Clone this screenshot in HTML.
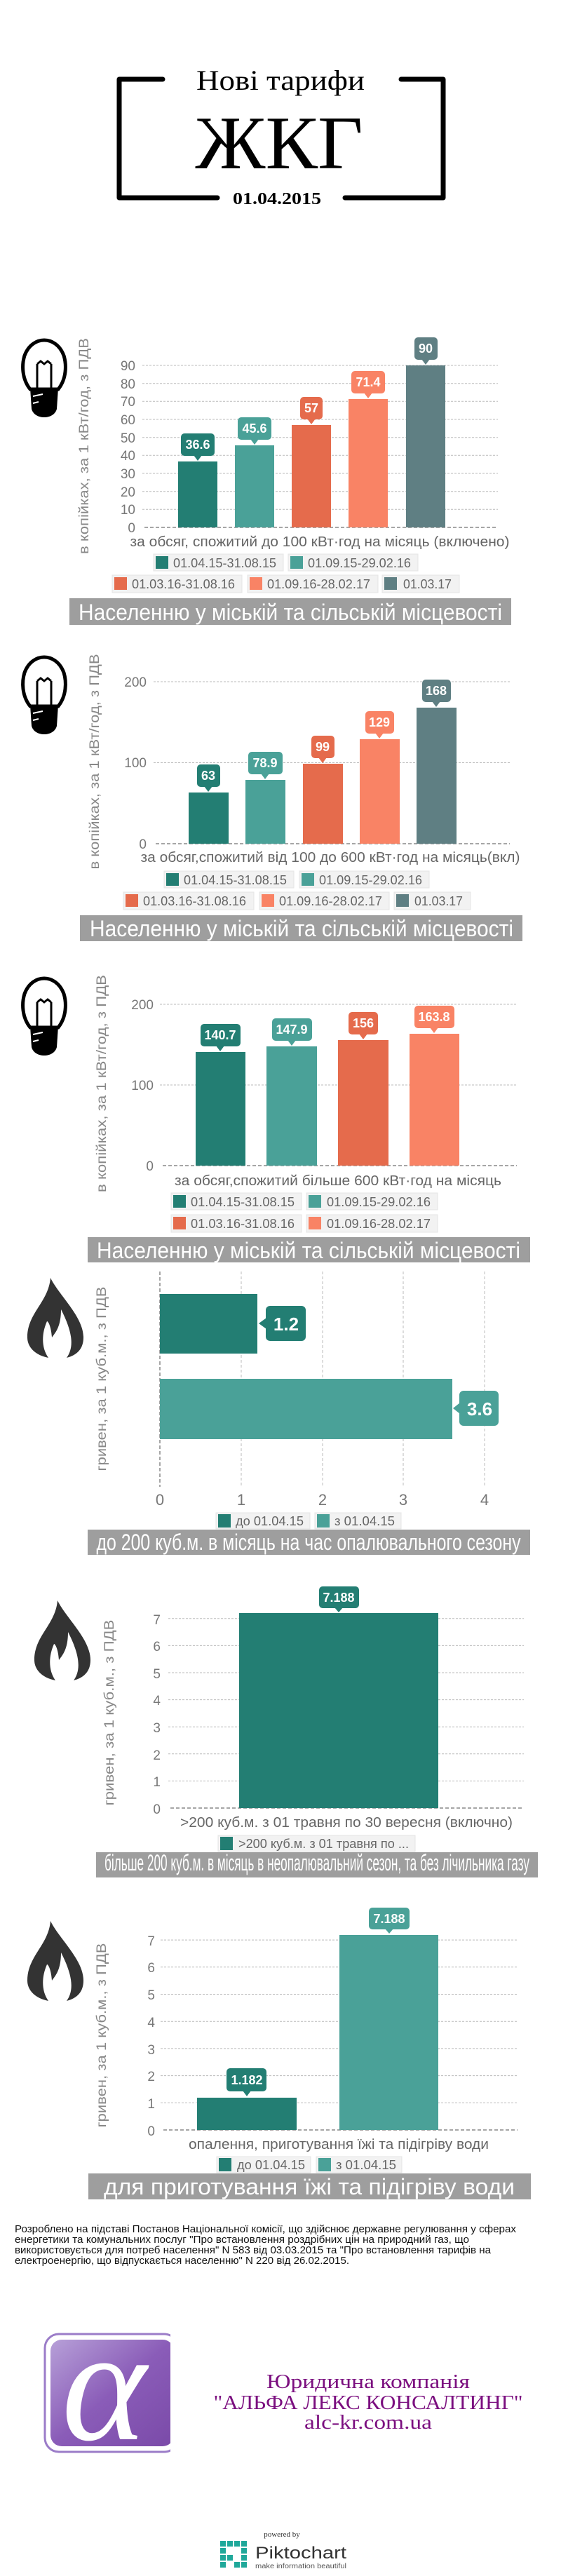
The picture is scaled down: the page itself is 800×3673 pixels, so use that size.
<!DOCTYPE html>
<html><head><meta charset="utf-8">
<style>
html,body{margin:0;padding:0;background:#fff;}
svg{display:block;}
.c{font-family:"Liberation Sans Narrow","Liberation Sans",sans-serif;}
.s{font-family:"Liberation Sans",sans-serif;}
.sf{font-family:"Liberation Serif",serif;}
.tk{font-size:19px;fill:#777;text-anchor:end;}
.bb{font-size:18px;fill:#fff;font-weight:bold;text-anchor:middle;}
.lg{font-size:18px;fill:#666;}
.cat{font-size:20px;fill:#666;text-anchor:middle;}
.ban{font-size:32px;fill:#fff;text-anchor:middle;}
.yl{font-size:19px;fill:#888;text-anchor:middle;}
</style></head><body>
<svg width="800" height="3673" viewBox="0 0 800 3673" xmlns="http://www.w3.org/2000/svg">
<defs>
<g id="bulb">
  <path d="M12,70 C0,55 0,35 4,22 C10,6 22,0 32,0 C42,0 54,6 60,22 C64,35 64,55 52,70 Z" fill="#fff" stroke="#000" stroke-width="5"/>
  <path d="M22,34 L22,68 M42,34 L42,68 M22,34 l5,-4 l5,4 l5,-4 l5,4" fill="none" stroke="#000" stroke-width="3"/>
  <path d="M12,68 L52,68 L50,98 C48,106 40,110 32,110 C24,110 16,106 14,98 Z" fill="#000"/>
  <path d="M16,80 L30,77 M16,90 L24,88" stroke="#fff" stroke-width="2"/>
</g>
<g id="flame">
  <path d="M33,0 C45,25 80,55 80,85 C80,100 72,110 56,114 C66,100 66,80 48,45 C48,70 40,78 35,85 C34,70 30,62 28,62 C20,80 20,100 30,114 C10,110 0,98 0,85 C0,50 30,35 33,0 Z" fill="#333"/>
</g>
<linearGradient id="pg" x1="0" y1="0" x2="1" y2="1">
  <stop offset="0" stop-color="#b7a0d8"/><stop offset="0.5" stop-color="#8a5cb8"/><stop offset="1" stop-color="#7a4aa8"/>
</linearGradient>
<clipPath id="lc"><rect x="55" y="3320" width="188" height="185"/></clipPath>
</defs>

<!-- TITLE -->
<path d="M232,113 L170,113 L170,282 L310,282 M572,113 L632,113 L632,282 L492,282" fill="none" stroke="#000" stroke-width="7" stroke-linecap="round" stroke-linejoin="round"/>
<text class="sf" x="400" y="128" font-size="40" text-anchor="middle" textLength="240" lengthAdjust="spacingAndGlyphs">Нові тарифи</text>
<text class="sf" x="398" y="240" font-size="108" text-anchor="middle" textLength="239" lengthAdjust="spacingAndGlyphs">ЖКГ</text>
<text class="sf" x="395" y="291" font-size="24" font-weight="bold" text-anchor="middle" textLength="126" lengthAdjust="spacingAndGlyphs">01.04.2015</text>

<!-- CHART 1 -->
<use href="#bulb" x="31" y="485"/>
<text class="s yl" transform="translate(126,636) rotate(-90)" textLength="308" lengthAdjust="spacingAndGlyphs">в копійках, за 1 кВт/год, з ПДВ</text>
<g stroke="#bbb" stroke-width="1" stroke-dasharray="3,2">
<line x1="203" x2="710" y1="726.3" y2="726.3"/><line x1="203" x2="710" y1="700.7" y2="700.7"/><line x1="203" x2="710" y1="675" y2="675"/><line x1="203" x2="710" y1="649.3" y2="649.3"/><line x1="203" x2="710" y1="623.7" y2="623.7"/><line x1="203" x2="710" y1="598" y2="598"/><line x1="203" x2="710" y1="572.3" y2="572.3"/><line x1="203" x2="710" y1="546.7" y2="546.7"/><line x1="203" x2="710" y1="521" y2="521"/>
</g>
<line x1="206" x2="710" y1="752" y2="752" stroke="#888" stroke-width="1.5" stroke-dasharray="5,3"/>
<g class="c tk">
<text x="193" y="759">0</text><text x="193" y="733">10</text><text x="193" y="708">20</text><text x="193" y="682">30</text><text x="193" y="656">40</text><text x="193" y="631">50</text><text x="193" y="605">60</text><text x="193" y="579">70</text><text x="193" y="554">80</text><text x="193" y="528">90</text>
</g>
<rect x="254" y="658" width="56" height="94" fill="#237e73"/>
<rect x="335" y="635" width="56" height="117" fill="#4aa198"/>
<rect x="416" y="606" width="56" height="146" fill="#e56b4c"/>
<rect x="497" y="569" width="56" height="183" fill="#f98365"/>
<rect x="579" y="521" width="56" height="231" fill="#5f7f83"/>
<g>
<rect x="258" y="618" width="48" height="32" rx="5" fill="#237e73"/><path d="M276,649 L288,649 L282,657 Z" fill="#237e73"/>
<rect x="339" y="595" width="48" height="32" rx="5" fill="#4aa198"/><path d="M357,626 L369,626 L363,634 Z" fill="#4aa198"/>
<rect x="428" y="566" width="32" height="32" rx="5" fill="#e56b4c"/><path d="M438,597 L450,597 L444,605 Z" fill="#e56b4c"/>
<rect x="501" y="529" width="48" height="32" rx="5" fill="#f98365"/><path d="M519,560 L531,560 L525,568 Z" fill="#f98365"/>
<rect x="591" y="481" width="33" height="32" rx="5" fill="#5f7f83"/><path d="M601,512 L613,512 L607,520 Z" fill="#5f7f83"/>
</g>
<g class="c bb">
<text x="282" y="640">36.6</text><text x="363" y="617">45.6</text><text x="444" y="588">57</text><text x="525" y="551">71.4</text><text x="607" y="503">90</text>
</g>
<text class="c cat" x="456" y="779" textLength="541" lengthAdjust="spacingAndGlyphs">за обсяг, спожитий до 100 кВт·год на місяць (включено)</text>
<g>
<rect x="219" y="790" width="185" height="24" fill="#f2f2f2" stroke="#e4e4e4"/><rect x="222" y="793" width="18" height="18" fill="#237e73"/>
<rect x="411" y="790" width="185" height="24" fill="#f2f2f2" stroke="#e4e4e4"/><rect x="414" y="793" width="18" height="18" fill="#4aa198"/>
<rect x="160" y="820" width="185" height="25" fill="#f2f2f2" stroke="#e4e4e4"/><rect x="163" y="823" width="18" height="18" fill="#e56b4c"/>
<rect x="353" y="820" width="186" height="25" fill="#f2f2f2" stroke="#e4e4e4"/><rect x="356" y="823" width="18" height="18" fill="#f98365"/>
<rect x="545" y="820" width="110" height="25" fill="#f2f2f2" stroke="#e4e4e4"/><rect x="548" y="823" width="18" height="18" fill="#5f7f83"/>
</g>
<g class="c lg">
<text x="247" y="809" textLength="147" lengthAdjust="spacingAndGlyphs">01.04.15-31.08.15</text>
<text x="439" y="809" textLength="147" lengthAdjust="spacingAndGlyphs">01.09.15-29.02.16</text>
<text x="188" y="839" textLength="147" lengthAdjust="spacingAndGlyphs">01.03.16-31.08.16</text>
<text x="381" y="839" textLength="147" lengthAdjust="spacingAndGlyphs">01.09.16-28.02.17</text>
<text x="575" y="839" textLength="69" lengthAdjust="spacingAndGlyphs">01.03.17</text>
</g>
<rect x="99" y="853" width="630" height="38" fill="#9e9e9e"/>
<text class="c ban" x="414" y="884" textLength="604" lengthAdjust="spacingAndGlyphs">Населенню у міській та сільській місцевості</text>

<!-- CHART 2 -->
<use href="#bulb" x="31" y="937"/>
<text class="s yl" transform="translate(141,1086) rotate(-90)" textLength="307" lengthAdjust="spacingAndGlyphs">в копійках, за 1 кВт/год, з ПДВ</text>
<g stroke="#bbb" stroke-width="1" stroke-dasharray="3,2">
<line x1="219" x2="727" y1="1087.5" y2="1087.5"/><line x1="219" x2="727" y1="972" y2="972"/>
</g>
<line x1="222" x2="727" y1="1203" y2="1203" stroke="#888" stroke-width="1.5" stroke-dasharray="5,3"/>
<g class="c tk"><text x="209" y="1210">0</text><text x="209" y="1094">100</text><text x="209" y="979">200</text></g>
<rect x="269" y="1130" width="57" height="73" fill="#237e73"/>
<rect x="350" y="1112" width="57" height="91" fill="#4aa198"/>
<rect x="432" y="1089" width="57" height="114" fill="#e56b4c"/>
<rect x="513" y="1054" width="57" height="149" fill="#f98365"/>
<rect x="594" y="1009" width="57" height="194" fill="#5f7f83"/>
<rect x="281" y="1090" width="33" height="32" rx="5" fill="#237e73"/><path d="M291,1121 L303,1121 L297,1129 Z" fill="#237e73"/>
<rect x="354" y="1072" width="49" height="32" rx="5" fill="#4aa198"/><path d="M372,1103 L384,1103 L378,1111 Z" fill="#4aa198"/>
<rect x="444" y="1049" width="33" height="32" rx="5" fill="#e56b4c"/><path d="M454,1080 L466,1080 L460,1088 Z" fill="#e56b4c"/>
<rect x="521" y="1014" width="41" height="32" rx="5" fill="#f98365"/><path d="M535,1045 L547,1045 L541,1053 Z" fill="#f98365"/>
<rect x="602" y="969" width="41" height="32" rx="5" fill="#5f7f83"/><path d="M616,1000 L628,1000 L622,1008 Z" fill="#5f7f83"/>
<g class="c bb">
<text x="297" y="1112">63</text><text x="378" y="1094">78.9</text><text x="460" y="1071">99</text><text x="541" y="1036">129</text><text x="622" y="991">168</text>
</g>
<text class="c cat" x="471" y="1229" textLength="541" lengthAdjust="spacingAndGlyphs">за обсяг,спожитий від 100 до 600 кВт·год на місяць(вкл)</text>
<g>
<rect x="234" y="1242" width="185" height="24" fill="#f2f2f2" stroke="#e4e4e4"/><rect x="237" y="1245" width="18" height="18" fill="#237e73"/>
<rect x="427" y="1242" width="185" height="24" fill="#f2f2f2" stroke="#e4e4e4"/><rect x="430" y="1245" width="18" height="18" fill="#4aa198"/>
<rect x="176" y="1272" width="186" height="25" fill="#f2f2f2" stroke="#e4e4e4"/><rect x="179" y="1275" width="18" height="18" fill="#e56b4c"/>
<rect x="370" y="1272" width="185" height="25" fill="#f2f2f2" stroke="#e4e4e4"/><rect x="373" y="1275" width="18" height="18" fill="#f98365"/>
<rect x="562" y="1272" width="109" height="25" fill="#f2f2f2" stroke="#e4e4e4"/><rect x="565" y="1275" width="18" height="18" fill="#5f7f83"/>
</g>
<g class="c lg">
<text x="262" y="1261" textLength="147" lengthAdjust="spacingAndGlyphs">01.04.15-31.08.15</text>
<text x="455" y="1261" textLength="147" lengthAdjust="spacingAndGlyphs">01.09.15-29.02.16</text>
<text x="204" y="1291" textLength="147" lengthAdjust="spacingAndGlyphs">01.03.16-31.08.16</text>
<text x="398" y="1291" textLength="147" lengthAdjust="spacingAndGlyphs">01.09.16-28.02.17</text>
<text x="591" y="1291" textLength="69" lengthAdjust="spacingAndGlyphs">01.03.17</text>
</g>
<rect x="114" y="1305" width="631" height="37" fill="#9e9e9e"/>
<text class="c ban" x="430" y="1335" textLength="604" lengthAdjust="spacingAndGlyphs">Населенню у міській та сільській місцевості</text>

<!-- CHART 3 -->
<use href="#bulb" x="31" y="1395"/>
<text class="s yl" transform="translate(151,1545) rotate(-90)" textLength="310" lengthAdjust="spacingAndGlyphs">в копійках, за 1 кВт/год, з ПДВ</text>
<g stroke="#bbb" stroke-width="1" stroke-dasharray="3,2">
<line x1="228" x2="737" y1="1547" y2="1547"/><line x1="228" x2="737" y1="1432" y2="1432"/>
</g>
<line x1="232" x2="737" y1="1662" y2="1662" stroke="#888" stroke-width="1.5" stroke-dasharray="5,3"/>
<g class="c tk"><text x="219" y="1669">0</text><text x="219" y="1554">100</text><text x="219" y="1439">200</text></g>
<rect x="279" y="1500" width="71" height="162" fill="#237e73"/>
<rect x="380" y="1492" width="72" height="170" fill="#4aa198"/>
<rect x="482" y="1483" width="72" height="179" fill="#e56b4c"/>
<rect x="584" y="1474" width="71" height="188" fill="#f98365"/>
<rect x="286" y="1460" width="57" height="32" rx="5" fill="#237e73"/><path d="M308,1491 L320,1491 L314,1499 Z" fill="#237e73"/>
<rect x="388" y="1452" width="57" height="32" rx="5" fill="#4aa198"/><path d="M410,1483 L422,1483 L416,1491 Z" fill="#4aa198"/>
<rect x="497" y="1443" width="42" height="32" rx="5" fill="#e56b4c"/><path d="M512,1474 L524,1474 L518,1482 Z" fill="#e56b4c"/>
<rect x="591" y="1434" width="57" height="32" rx="5" fill="#f98365"/><path d="M613,1465 L625,1465 L619,1473 Z" fill="#f98365"/>
<g class="c bb">
<text x="314" y="1482">140.7</text><text x="416" y="1474">147.9</text><text x="518" y="1465">156</text><text x="619" y="1456">163.8</text>
</g>
<text class="c cat" x="482" y="1690" textLength="466" lengthAdjust="spacingAndGlyphs">за обсяг,спожитий більше 600 кВт·год на місяць</text>
<g>
<rect x="244" y="1701" width="186" height="24" fill="#f2f2f2" stroke="#e4e4e4"/><rect x="247" y="1704" width="18" height="18" fill="#237e73"/>
<rect x="437" y="1701" width="187" height="24" fill="#f2f2f2" stroke="#e4e4e4"/><rect x="440" y="1704" width="18" height="18" fill="#4aa198"/>
<rect x="244" y="1732" width="186" height="25" fill="#f2f2f2" stroke="#e4e4e4"/><rect x="247" y="1735" width="18" height="18" fill="#e56b4c"/>
<rect x="437" y="1732" width="187" height="25" fill="#f2f2f2" stroke="#e4e4e4"/><rect x="440" y="1735" width="18" height="18" fill="#f98365"/>
</g>
<g class="c lg">
<text x="272" y="1720" textLength="148" lengthAdjust="spacingAndGlyphs">01.04.15-31.08.15</text>
<text x="466" y="1720" textLength="148" lengthAdjust="spacingAndGlyphs">01.09.15-29.02.16</text>
<text x="272" y="1751" textLength="148" lengthAdjust="spacingAndGlyphs">01.03.16-31.08.16</text>
<text x="466" y="1751" textLength="148" lengthAdjust="spacingAndGlyphs">01.09.16-28.02.17</text>
</g>
<rect x="125" y="1764" width="631" height="36" fill="#9e9e9e"/>
<text class="c ban" x="440" y="1794" textLength="604" lengthAdjust="spacingAndGlyphs">Населенню у міській та сільській місцевості</text>

<!-- CHART 4 (horizontal) -->
<use href="#flame" x="39" y="1822"/>
<text class="s yl" transform="translate(151,1966) rotate(-90)" textLength="263" lengthAdjust="spacingAndGlyphs">гривен, за 1 куб.м., з ПДВ</text>
<g stroke="#bbb" stroke-width="1" stroke-dasharray="4,3">
<line x1="344" x2="344" y1="1813" y2="2120"/><line x1="460" x2="460" y1="1813" y2="2120"/><line x1="575" x2="575" y1="1813" y2="2120"/><line x1="691" x2="691" y1="1813" y2="2120"/>
</g>
<line x1="228" x2="228" y1="1813" y2="2120" stroke="#888" stroke-width="1.5" stroke-dasharray="5,3"/>
<rect x="228" y="1845" width="139" height="85" fill="#237e73"/>
<rect x="228" y="1966" width="417" height="86" fill="#4aa198"/>
<rect x="379" y="1862" width="57" height="50" rx="6" fill="#237e73"/><path d="M380,1879 L380,1895 L369,1887 Z" fill="#237e73"/>
<rect x="655" y="1983" width="56" height="50" rx="6" fill="#4aa198"/><path d="M656,2000 L656,2016 L646,2008 Z" fill="#4aa198"/>
<text class="c" x="408" y="1897" font-size="26" font-weight="bold" fill="#fff" text-anchor="middle">1.2</text>
<text class="c" x="684" y="2018" font-size="26" font-weight="bold" fill="#fff" text-anchor="middle">3.6</text>
<g class="c" font-size="22" fill="#777" text-anchor="middle">
<text x="228" y="2146">0</text><text x="344" y="2146">1</text><text x="460" y="2146">2</text><text x="575" y="2146">3</text><text x="691" y="2146">4</text>
</g>
<rect x="308" y="2157" width="134" height="23" fill="#f2f2f2" stroke="#e4e4e4"/><rect x="311" y="2159" width="18" height="19" fill="#237e73"/>
<rect x="449" y="2157" width="123" height="23" fill="#f2f2f2" stroke="#e4e4e4"/><rect x="452" y="2159" width="18" height="19" fill="#4aa198"/>
<text class="c lg" x="336" y="2175" textLength="97" lengthAdjust="spacingAndGlyphs">до 01.04.15</text>
<text class="c lg" x="477" y="2175" textLength="86" lengthAdjust="spacingAndGlyphs">з 01.04.15</text>
<rect x="125" y="2181" width="631" height="36" fill="#9e9e9e"/>
<text class="c ban" x="440" y="2210" font-size="30" textLength="605" lengthAdjust="spacingAndGlyphs">до 200 куб.м. в місяць на час опалювального сезону</text>

<!-- CHART 5 -->
<use href="#flame" x="49" y="2282"/>
<text class="s yl" transform="translate(162,2442) rotate(-90)" textLength="265" lengthAdjust="spacingAndGlyphs">гривен, за 1 куб.м., з ПДВ</text>
<g stroke="#bbb" stroke-width="1" stroke-dasharray="3,2">
<line x1="240" x2="747" y1="2539.4" y2="2539.4"/><line x1="240" x2="747" y1="2500.8" y2="2500.8"/><line x1="240" x2="747" y1="2462.2" y2="2462.2"/><line x1="240" x2="747" y1="2423.6" y2="2423.6"/><line x1="240" x2="747" y1="2385" y2="2385"/><line x1="240" x2="747" y1="2346.4" y2="2346.4"/><line x1="240" x2="747" y1="2307.8" y2="2307.8"/>
</g>
<line x1="243" x2="747" y1="2578" y2="2578" stroke="#888" stroke-width="1.5" stroke-dasharray="5,3"/>
<g class="c tk" font-size="22">
<text x="229" y="2586">0</text><text x="229" y="2547">1</text><text x="229" y="2509">2</text><text x="229" y="2470">3</text><text x="229" y="2431">4</text><text x="229" y="2393">5</text><text x="229" y="2354">6</text><text x="229" y="2316">7</text>
</g>
<rect x="341" y="2300" width="284" height="278" fill="#237e73"/>
<rect x="455" y="2262" width="57" height="31" rx="5" fill="#237e73"/><path d="M477,2292 L489,2292 L483,2299 Z" fill="#237e73"/>
<text class="c bb" x="483" y="2284">7.188</text>
<text class="c cat" x="494" y="2605" textLength="474" lengthAdjust="spacingAndGlyphs">&gt;200 куб.м. з 01 травня по 30 вересня (включно)</text>
<rect x="311" y="2617" width="281" height="23" fill="#f2f2f2" stroke="#e4e4e4"/><rect x="314" y="2619" width="18" height="19" fill="#237e73"/>
<text class="c lg" x="340" y="2635" textLength="243" lengthAdjust="spacingAndGlyphs">&gt;200 куб.м. з 01 травня по ...</text>
<rect x="137" y="2641" width="630" height="36" fill="#9e9e9e"/>
<text class="c ban" x="452" y="2667" font-size="22" textLength="606" lengthAdjust="spacingAndGlyphs">більше 200 куб.м. в місяць в неопалювальний сезон, та без лічильника газу</text>

<!-- CHART 6 -->
<use href="#flame" x="39" y="2739"/>
<text class="s yl" transform="translate(151,2902) rotate(-90)" textLength="263" lengthAdjust="spacingAndGlyphs">гривен, за 1 куб.м., з ПДВ</text>
<g stroke="#bbb" stroke-width="1" stroke-dasharray="3,2">
<line x1="229" x2="738" y1="2998.3" y2="2998.3"/><line x1="229" x2="738" y1="2959.6" y2="2959.6"/><line x1="229" x2="738" y1="2920.9" y2="2920.9"/><line x1="229" x2="738" y1="2882.2" y2="2882.2"/><line x1="229" x2="738" y1="2843.5" y2="2843.5"/><line x1="229" x2="738" y1="2804.8" y2="2804.8"/><line x1="229" x2="738" y1="2766.1" y2="2766.1"/>
</g>
<line x1="233" x2="738" y1="3037" y2="3037" stroke="#888" stroke-width="1.5" stroke-dasharray="5,3"/>
<g class="c tk" font-size="22">
<text x="221" y="3045">0</text><text x="221" y="3006">1</text><text x="221" y="2967">2</text><text x="221" y="2929">3</text><text x="221" y="2890">4</text><text x="221" y="2851">5</text><text x="221" y="2812">6</text><text x="221" y="2774">7</text>
</g>
<rect x="281" y="2991" width="142" height="46" fill="#237e73"/>
<rect x="484" y="2759" width="141" height="278" fill="#4aa198"/>
<rect x="323" y="2949" width="57" height="33" rx="5" fill="#237e73"/><path d="M346,2981 L358,2981 L352,2989 Z" fill="#237e73"/>
<rect x="526" y="2720" width="58" height="31" rx="5" fill="#4aa198"/><path d="M549,2750 L561,2750 L555,2757 Z" fill="#4aa198"/>
<text class="c bb" x="352" y="2972">1.182</text>
<text class="c bb" x="555" y="2742">7.188</text>
<text class="c cat" x="483" y="3064" textLength="428" lengthAdjust="spacingAndGlyphs">опалення, приготування їжі та підігріву води</text>
<rect x="309" y="3075" width="134" height="23" fill="#f2f2f2" stroke="#e4e4e4"/><rect x="312" y="3077" width="18" height="19" fill="#237e73"/>
<rect x="451" y="3075" width="122" height="23" fill="#f2f2f2" stroke="#e4e4e4"/><rect x="454" y="3077" width="18" height="19" fill="#4aa198"/>
<text class="c lg" x="338" y="3093" textLength="97" lengthAdjust="spacingAndGlyphs">до 01.04.15</text>
<text class="c lg" x="479" y="3093" textLength="86" lengthAdjust="spacingAndGlyphs">з 01.04.15</text>
<rect x="126" y="3099" width="631" height="37" fill="#9e9e9e"/>
<text class="c ban" x="441" y="3129" textLength="586" lengthAdjust="spacingAndGlyphs">для приготування їжі та підігріву води</text>

<!-- FOOTNOTE -->
<g class="c" font-size="15" fill="#111">
<text x="21" y="3183" textLength="715" lengthAdjust="spacingAndGlyphs">Розроблено на підставі Постанов Національної комісії, що здійснює державне регулювання у сферах</text>
<text x="21" y="3198" textLength="648" lengthAdjust="spacingAndGlyphs">енергетики та комунальних послуг "Про встановлення роздрібних цін на природний газ, що</text>
<text x="21" y="3213" textLength="679" lengthAdjust="spacingAndGlyphs">використовується для потреб населення" N 583 від 03.03.2015 та "Про встановлення тарифів на</text>
<text x="21" y="3228" textLength="477" lengthAdjust="spacingAndGlyphs">електроенергію, що відпускається населенню" N 220 від 26.02.2015.</text>
</g>

<!-- LOGO -->
<g clip-path="url(#lc)">
<rect x="64" y="3328" width="190" height="168" rx="20" fill="#fff" stroke="#9b7cc8" stroke-width="3"/>
<rect x="72" y="3336" width="176" height="152" rx="16" fill="url(#pg)"/>
<text class="sf" x="88" y="3478" font-size="230" font-style="italic" fill="#fff">α</text>
</g>
<g class="sf" fill="#7b0f7f" text-anchor="middle">
<text x="525" y="3405" font-size="28" textLength="290" lengthAdjust="spacingAndGlyphs">Юридична компанія</text>
<text x="525" y="3435" font-size="28" textLength="441" lengthAdjust="spacingAndGlyphs">"АЛЬФА ЛЕКС КОНСАЛТИНГ"</text>
<text x="525" y="3463" font-size="28" textLength="182" lengthAdjust="spacingAndGlyphs">alc-kr.com.ua</text>
</g>

<!-- PIKTOCHART -->
<text class="sf" x="402" y="3617" font-size="11" fill="#333" text-anchor="middle">powered by</text>
<g fill="#1fa89a">
<rect x="314" y="3623" width="8" height="8"/><rect x="324" y="3623" width="8" height="8"/><rect x="334" y="3623" width="8" height="8"/><rect x="344" y="3623" width="8" height="8"/>
<rect x="314" y="3633" width="8" height="8"/><rect x="344" y="3633" width="8" height="8"/>
<rect x="314" y="3643" width="8" height="8"/><rect x="324" y="3643" width="8" height="8"/><rect x="344" y="3643" width="8" height="8"/>
<rect x="314" y="3653" width="8" height="8"/><rect x="334" y="3653" width="8" height="8"/><rect x="344" y="3653" width="8" height="8"/>
</g>
<text class="s" x="364" y="3648" font-size="24" fill="#333" textLength="130" lengthAdjust="spacingAndGlyphs">Piktochart</text>
<text class="s" x="364" y="3662" font-size="10" fill="#555" textLength="130" lengthAdjust="spacingAndGlyphs">make information beautiful</text>
</svg>
</body></html>
